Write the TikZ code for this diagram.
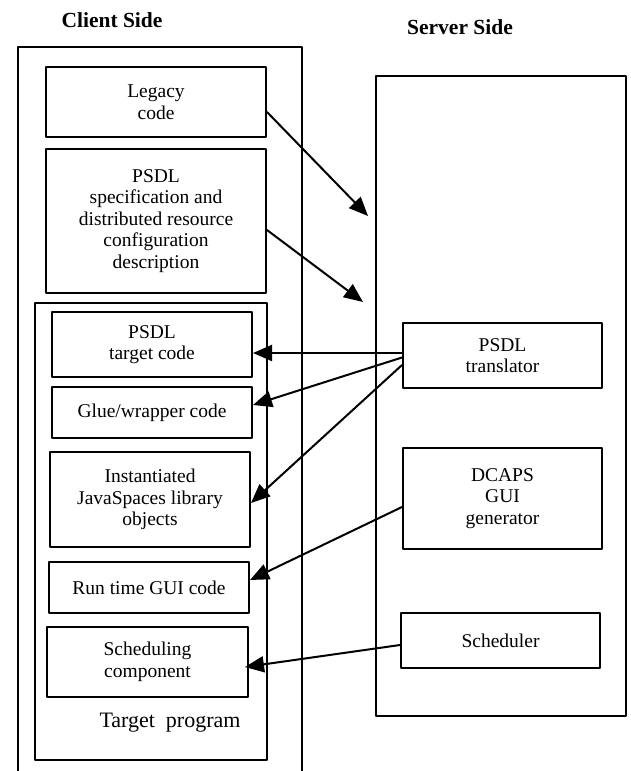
\documentclass[tikz,border=0pt]{standalone}
\usepackage{fontspec}
\setmainfont{Liberation Serif}
\usetikzlibrary{arrows.meta}

\begin{document}
\begin{tikzpicture}[x=1pt,y=-1pt,line cap=round,line join=round,
  box/.style={draw,line width=2pt,align=center,inner sep=2pt,
    font=\fontsize{19.5}{21.5}\selectfont},
  frame/.style={line width=2pt},
  title/.style={font=\fontsize{21.5}{24}\selectfont\bfseries},
  link/.style={line width=2pt,-{Triangle[length=19pt,width=16pt]}}]
  \useasboundingbox (0,0) rectangle (631,771);
  % frames
  \draw[frame] (18,780) -- (18,47) -- (302,47) -- (302,780);
  \draw[frame] (35,303) rectangle (267,760);
  \draw[frame] (376,76) rectangle (626,716);
  \node[title] (client) at (112,20) {Client Side};
  \node[title] (server) at (460,27) {Server Side};
  % client side
  \node[box,minimum width=220pt,minimum height=70pt] (legacy) at (156,102) {Legacy\\code};
  \node[box,minimum width=220pt,minimum height=144pt] (spec) at (156,221)
    {PSDL\\specification and\\distributed resource\\configuration\\description};
  \node[box,minimum width=200pt,minimum height=65pt] (tcode) at (152,344.5) {PSDL\\target code};
  \node[box,minimum width=200pt,minimum height=51pt] (glue) at (152,412.5) {Glue/wrapper code};
  \node[box,minimum width=200pt,minimum height=95pt] (inst) at (150,499.5)
    {Instantiated\\JavaSpaces library\\objects};
  \node[box,minimum width=200pt,minimum height=51pt] (rgui) at (149,587.5) {Run time GUI code};
  \node[box,minimum width=201pt,minimum height=70pt] (sched) at (147.5,662) {Scheduling\\component};
  \node[font=\fontsize{22}{24}\selectfont] (tprog) at (170,723) {Target\enspace program};
  % server side
  \node[box,minimum width=199pt,minimum height=65pt] (trans) at (502.5,355.5) {PSDL\\translator};
  \node[box,minimum width=199pt,minimum height=101pt] (dcaps) at (502.5,498.5) {DCAPS\\GUI\\generator};
  \node[box,minimum width=199pt,minimum height=55pt] (schedr) at (500.5,640.5) {Scheduler};
  % arrows
  \coordinate (in1) at (368,216);
  \coordinate (in2) at (363,302);
  \draw[link] ([yshift=-10pt]legacy.east) -- (in1);
  \draw[link] ([yshift=-9pt]spec.east) -- (in2);
  \draw[link] ([yshift=2.5pt]trans.west) -- ([yshift=-8.5pt]tcode.east);
  \draw[link] ([yshift=-2pt]trans.west) -- ([yshift=7.5pt]glue.east);
  \draw[link] ([yshift=-9.5pt]trans.west) -- ([yshift=-3.5pt]inst.east);
  \draw[link] ([yshift=-8.5pt]dcaps.west) -- ([yshift=7.5pt]rgui.east);
  \draw[link] ([yshift=-4.5pt]schedr.west) -- ([xshift=-4pt,yshift=-5pt]sched.east);
\end{tikzpicture}
\end{document}
